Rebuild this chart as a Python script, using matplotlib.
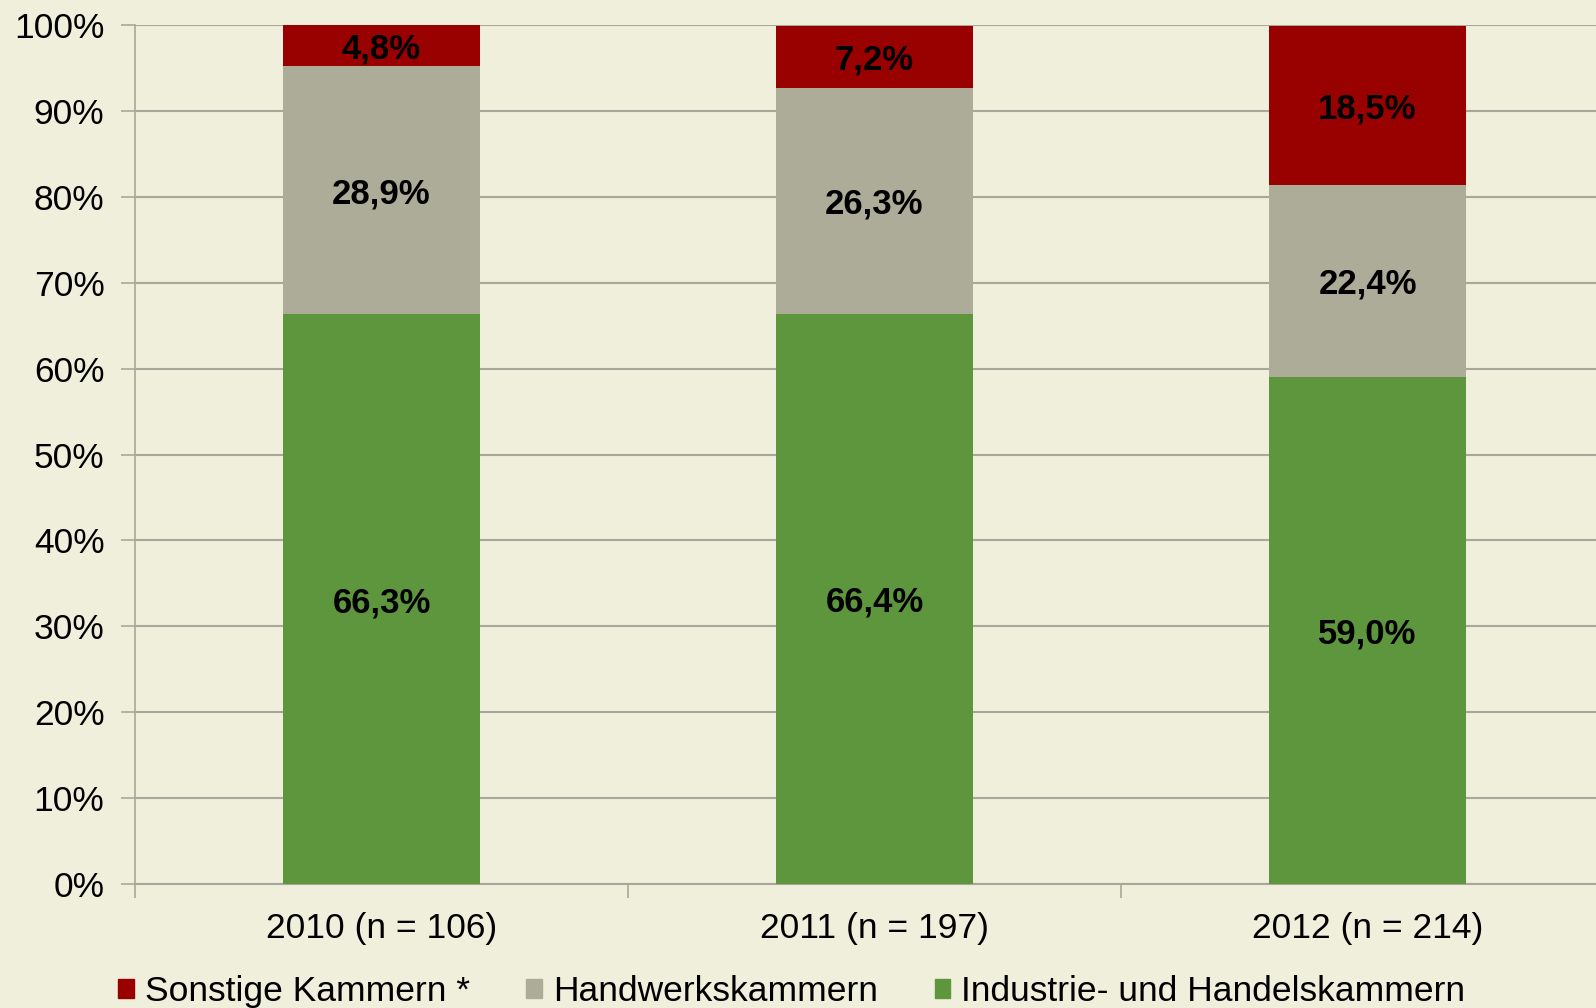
import matplotlib
matplotlib.use("Agg")
import matplotlib.pyplot as plt
from matplotlib.patches import Patch

categories = ["2010 (n = 106)", "2011 (n = 197)", "2012 (n = 214)"]
ihk = [66.3, 66.4, 59.0]
hwk = [28.9, 26.3, 22.4]
sonst = [4.8, 7.2, 18.5]
series_names = ["Sonstige Kammern *", "Handwerkskammern", "Industrie- und Handelskammern"]
y_ticks = [0, 10, 20, 30, 40, 50, 60, 70, 80, 90, 100]

bg = "#F0EFDC"
c_green = "#5E963D"
c_gray = "#ADAC98"
c_red = "#990000"
grid_c = "#A8A79A"

plt.rcParams['font.family'] = ['Liberation Sans', 'DejaVu Sans']

fig = plt.figure(figsize=(15.96, 10.08), dpi=100, facecolor=bg)
W, H = 1596, 1008
left, right, top, bottom = 135, 1614, 25, 884
ax = fig.add_axes([left / W, (H - bottom) / H, (right - left) / W, (bottom - top) / H])
ax.set_facecolor(bg)

x = list(range(len(categories)))
w = 0.4
bottoms2 = ihk
bottoms3 = [a + b for a, b in zip(ihk, hwk)]
tops3 = [min(100, b + s) for b, s in zip(bottoms3, sonst)]
ax.bar(x, ihk, width=w, color=c_green, zorder=3)
ax.bar(x, hwk, width=w, bottom=bottoms2, color=c_gray, zorder=3)
ax.bar(x, [t - b for t, b in zip(tops3, bottoms3)], width=w, bottom=bottoms3, color=c_red, zorder=3)

def fmt(v):
    return f"{v:.1f}".replace(".", ",") + "%"

lab_fs = 25
for i in x:
    ax.text(i, ihk[i] / 2, fmt(ihk[i]), ha="center", va="center_baseline", fontsize=lab_fs, fontweight="bold", zorder=4)
    ax.text(i, bottoms2[i] + hwk[i] / 2, fmt(hwk[i]), ha="center", va="center_baseline", fontsize=lab_fs, fontweight="bold", zorder=4)
    ax.text(i, (bottoms3[i] + tops3[i]) / 2, fmt(sonst[i]), ha="center", va="center_baseline", fontsize=lab_fs, fontweight="bold", zorder=4)

ax.set_xlim(-0.5, len(categories) - 0.5)
ax.set_ylim(0, 100)
ax.set_yticks(y_ticks)
ax.set_yticklabels([f"{t}%" for t in y_ticks], fontsize=25.5)
ax.set_xticks([i + 0.5 for i in range(-1, len(categories))])
ax.set_xticklabels([])
ax.set_xticks(x, minor=True)
ax.set_xticklabels(categories, minor=True, fontsize=25.5)
ax.tick_params(axis="x", which="minor", length=0, pad=20)
ax.tick_params(axis="x", which="major", length=10, color=grid_c, width=1.2)
ax.tick_params(axis="y", length=10, color=grid_c, width=1.2, pad=12)

ax.yaxis.grid(True, color=grid_c, linewidth=1.5, zorder=0)
for s in ["top", "right"]:
    ax.spines[s].set_visible(False)
ax.spines["left"].set_color(grid_c)
ax.spines["bottom"].set_color(grid_c)
ax.spines["left"].set_linewidth(1.2)
ax.spines["bottom"].set_linewidth(1.5)

handles = [Patch(color=c_red), Patch(color=c_gray), Patch(color=c_green)]
fig.legend(handles, series_names, loc="center", bbox_to_anchor=(0.496, 0.016), ncol=3,
           frameon=False, fontsize=25.5, handlelength=0.45, handleheight=0.45,
           handletextpad=0.3, columnspacing=1.6)

fig.savefig("out.png", dpi=100, facecolor=bg)
